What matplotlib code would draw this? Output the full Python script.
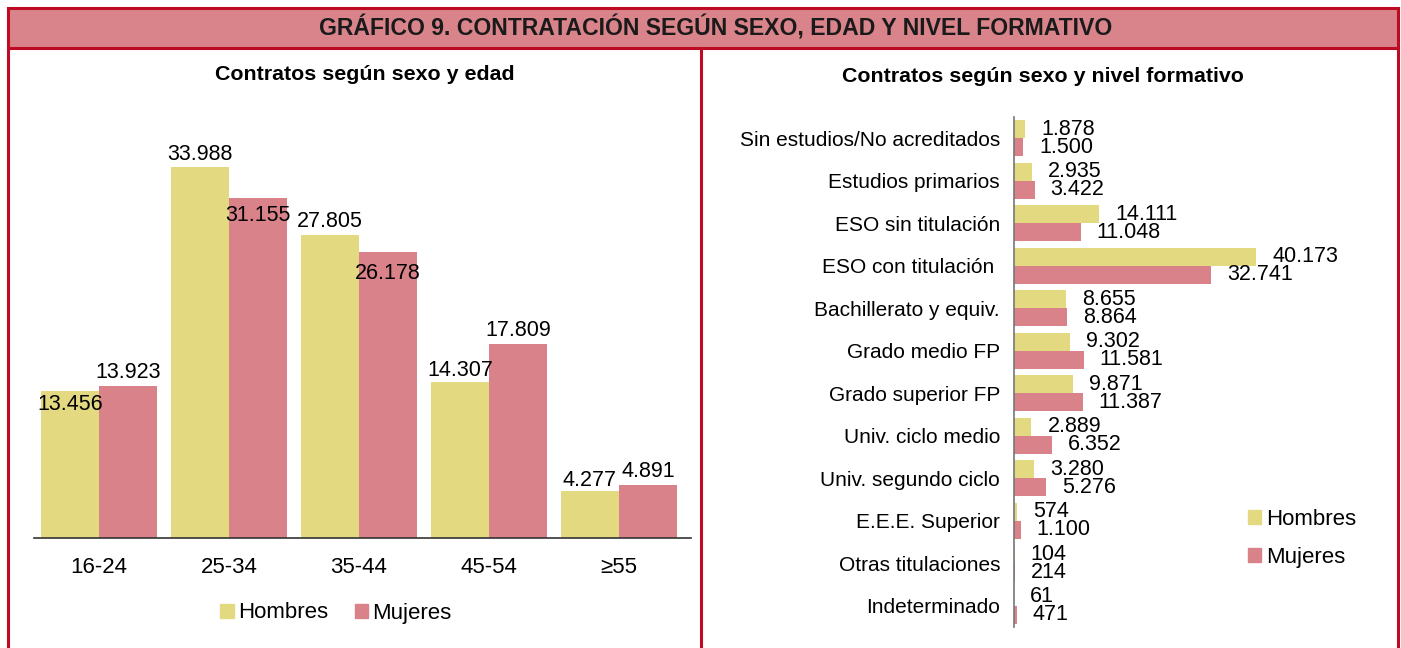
import matplotlib
matplotlib.use('Agg')
import matplotlib.pyplot as plt
import numpy as np
from matplotlib.patches import Rectangle, Patch
from matplotlib.lines import Line2D

plt.rcParams['font.family'] = ['Liberation Sans', 'DejaVu Sans']

# Datos: contratos segun sexo y edad
edades = ['16-24', '25-34', '35-44', '45-54', '≥55']
hombres_edad = [13456, 33988, 27805, 14307, 4277]
mujeres_edad = [13923, 31155, 26178, 17809, 4891]

# Datos: contratos segun sexo y nivel formativo
niveles = ['Sin estudios/No acreditados', 'Estudios primarios', 'ESO sin titulación',
           'ESO con titulación ', 'Bachillerato y equiv.', 'Grado medio FP',
           'Grado superior FP', 'Univ. ciclo medio', 'Univ. segundo ciclo',
           'E.E.E. Superior', 'Otras titulaciones', 'Indeterminado']
hombres_nivel = [1878, 2935, 14111, 40173, 8655, 9302, 9871, 2889, 3280, 574, 104, 61]
mujeres_nivel = [1500, 3422, 11048, 32741, 8864, 11581, 11387, 6352, 5276, 1100, 214, 471]

# colores
c_hom = '#E2D981'
c_muj = '#D9828A'
c_rojo = '#BE0A22'
c_cab = '#D9838B'

W, H = 1401, 648


def fx(px):
    return px / W


def fy(py):
    return 1 - py / H


def fmt(v):
    return f'{v:,}'.replace(',', '.')


fig = plt.figure(figsize=(W / 100, H / 100), dpi=100)

# Marco y cabecera
fig.patches.append(Rectangle((fx(8), fy(48)), fx(1390), 40 / H, transform=fig.transFigure,
                             facecolor=c_cab, edgecolor=c_rojo, linewidth=2.2))
for x in [8, 701, 1398]:
    fig.lines.append(Line2D([fx(x), fx(x)], [fy(48), 0], transform=fig.transFigure,
                            color=c_rojo, linewidth=2.2))
fig.text(fx(716), fy(28), 'GRÁFICO 9. CONTRATACIÓN SEGÚN SEXO, EDAD Y NIVEL FORMATIVO',
         ha='center', va='center', fontsize=16.6, fontweight='bold', color='#1a1a1a')
fig.text(fx(365), fy(75), 'Contratos según sexo y edad', ha='center', va='center',
         fontsize=15.4, fontweight='bold')
fig.text(fx(1043), fy(77), 'Contratos según sexo y nivel formativo', ha='center', va='center',
         fontsize=15.4, fontweight='bold')

# ---- Grafico izquierdo ----
ax1 = fig.add_axes([fx(34), fy(538), fx(691 - 34), (538 - 120) / H])
x = np.arange(len(edades))
bw = 0.446
b1 = ax1.bar(x - bw / 2, hombres_edad, bw, color=c_hom, label='Hombres')
b2 = ax1.bar(x + bw / 2, mujeres_edad, bw, color=c_muj, label='Mujeres')
ax1.set_xlim(-0.5, 4.554)
ax1.set_ylim(0, 38300)
ax1.set_yticks([])
for s in ['top', 'right', 'left']:
    ax1.spines[s].set_visible(False)
ax1.spines['bottom'].set_color('#333333')
ax1.spines['bottom'].set_linewidth(1.2)
ax1.set_xticks(x)
ax1.set_xticklabels(edades, fontsize=16)
ax1.tick_params(axis='x', length=0, pad=14)

dy_hom = [-13, 13, 13, 11, 11]
dy_muj = [14, -18, -21, 13, 13]
for rect, v, d in zip(b1, hombres_edad, dy_hom):
    ax1.annotate(fmt(v), (rect.get_x() + rect.get_width() / 2, v), xytext=(0, d),
                 textcoords='offset pixels', ha='center', va='center', fontsize=15.5)
for rect, v, d in zip(b2, mujeres_edad, dy_muj):
    ax1.annotate(fmt(v), (rect.get_x() + rect.get_width() / 2, v), xytext=(0, d),
                 textcoords='offset pixels', ha='center', va='center', fontsize=15.5)

fig.legend(handles=[Patch(color=c_hom, label='Hombres'), Patch(color=c_muj, label='Mujeres')],
           loc='center', bbox_to_anchor=(fx(336), fy(613)), ncol=2, frameon=False,
           fontsize=16, handlelength=0.6, handleheight=0.6, handletextpad=0.2,
           columnspacing=1.2)

# ---- Grafico derecho ----
ax2 = fig.add_axes([fx(1014), fy(627), fx(1390 - 1014), (627 - 117) / H])
y = np.arange(len(niveles))
bh = 0.424
r1 = ax2.barh(y - bh / 2, hombres_nivel, bh, color=c_hom)
r2 = ax2.barh(y + bh / 2, mujeres_nivel, bh, color=c_muj)
ax2.set_ylim(11.5, -0.5)
ax2.set_xlim(0, 62400)
ax2.set_xticks([])
for s in ['top', 'right', 'bottom']:
    ax2.spines[s].set_visible(False)
ax2.spines['left'].set_color('#777777')
ax2.spines['left'].set_linewidth(1.2)
ax2.set_yticks(y)
ax2.set_yticklabels(niveles, fontsize=15)
ax2.tick_params(axis='y', length=0, pad=10)

for rects, vals in [(r1, hombres_nivel), (r2, mujeres_nivel)]:
    for rect, v in zip(rects, vals):
        ax2.annotate(fmt(v), (v, rect.get_y() + rect.get_height() / 2), xytext=(16, 0),
                     textcoords='offset pixels', ha='left', va='center', fontsize=15.5)

fig.legend(handles=[Patch(color=c_hom, label='Hombres'), Patch(color=c_muj, label='Mujeres')],
           loc='upper left', bbox_to_anchor=(fx(1228), fy(489)), ncol=1, frameon=False,
           fontsize=16, handlelength=0.6, handleheight=0.6, handletextpad=0.2,
           labelspacing=0.75)

fig.savefig('out.png', dpi=100)
